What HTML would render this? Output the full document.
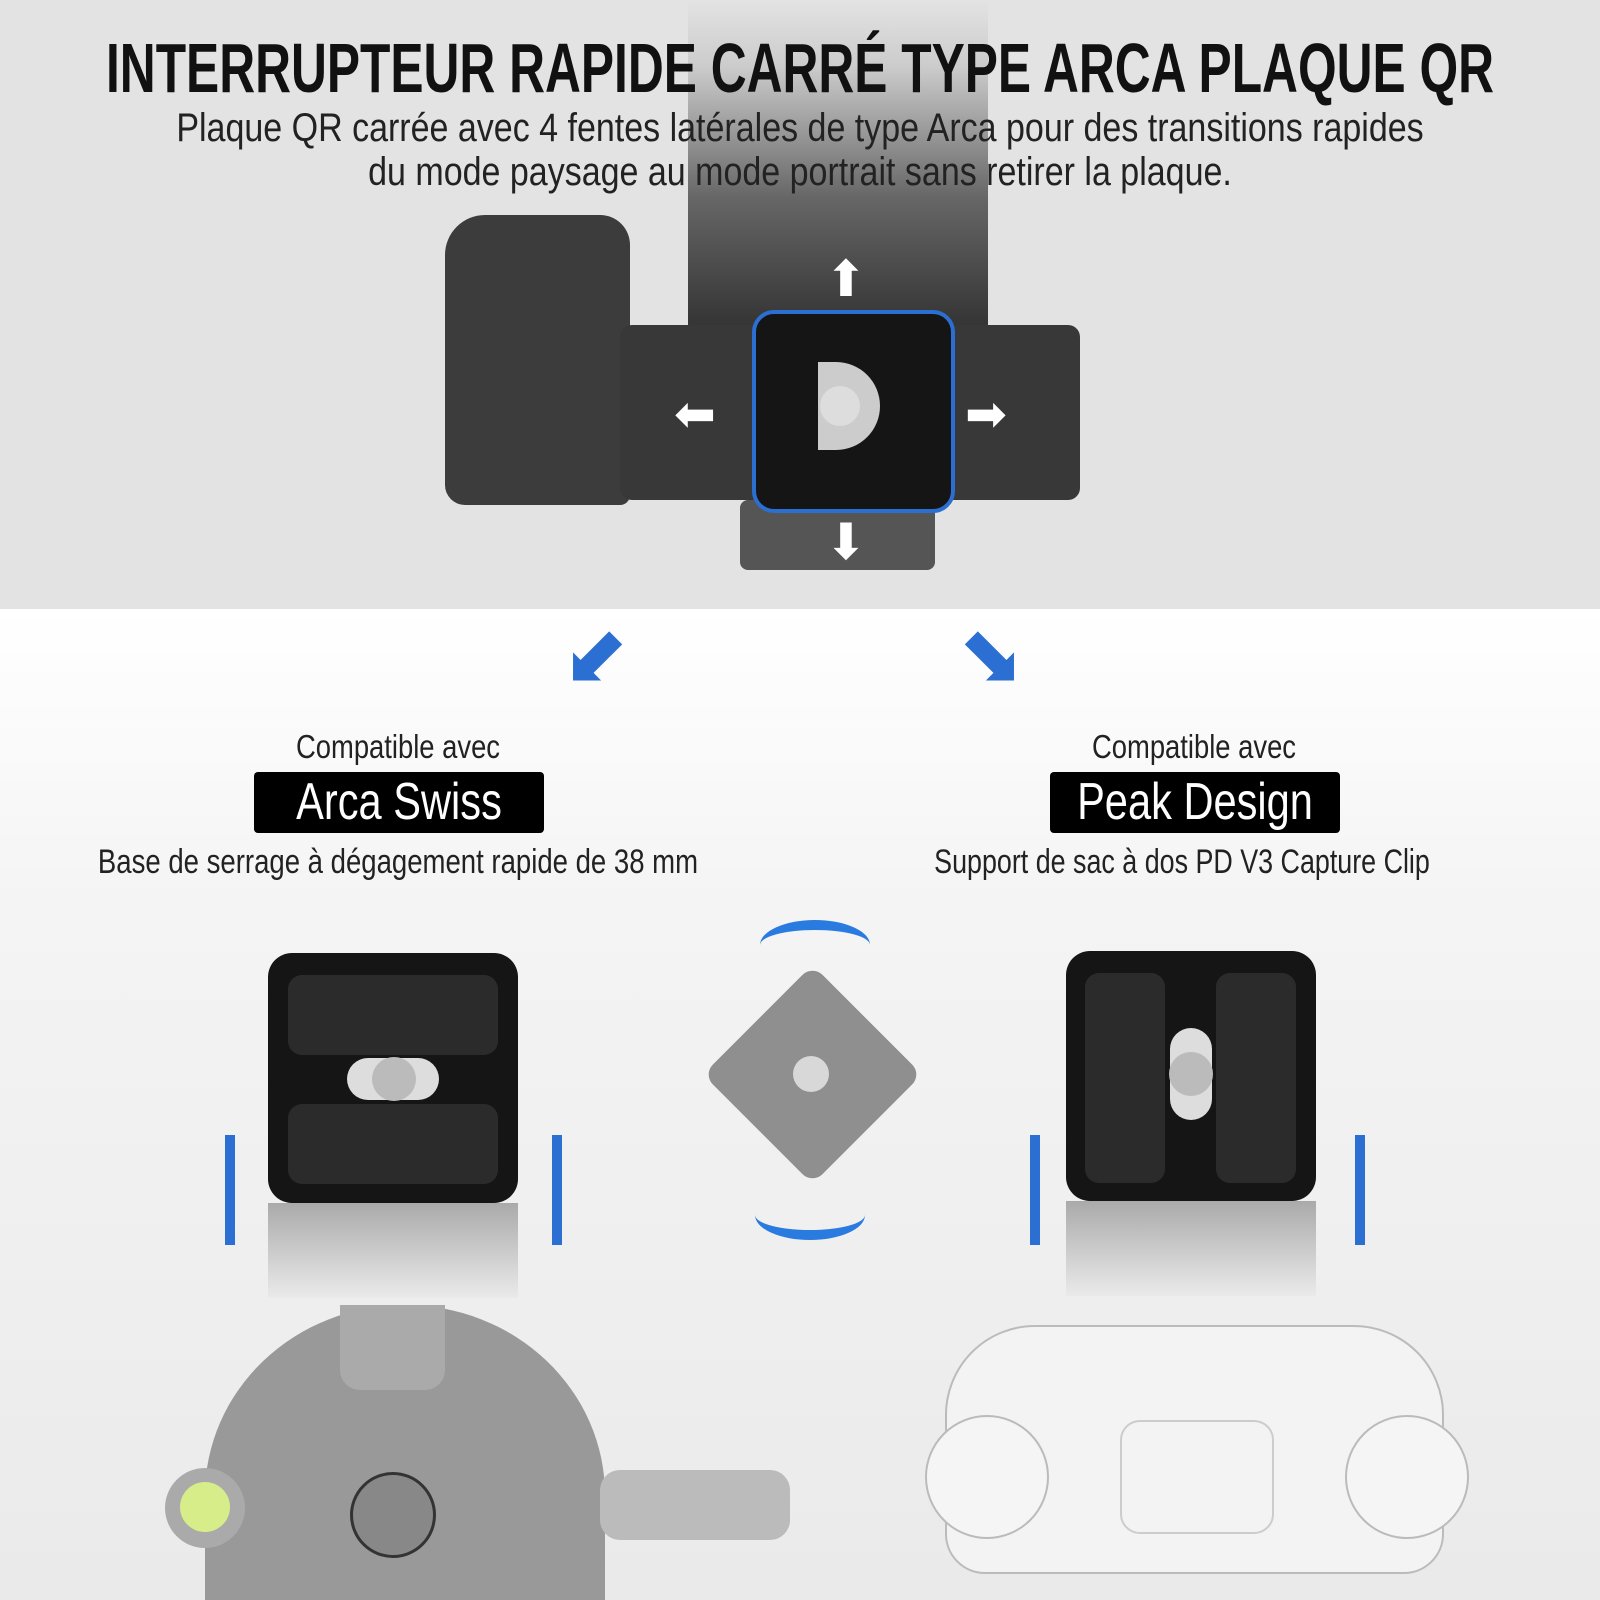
<!DOCTYPE html>
<html><head><meta charset="utf-8"><style>
html,body{margin:0;width:1600px;height:1600px;overflow:hidden}
body{font-family:"Liberation Sans",sans-serif;background:#fff}
#w{position:relative;width:1600px;height:1600px;overflow:hidden}
.a{position:absolute}
.t{position:absolute;white-space:nowrap;transform-origin:center;text-align:center}
</style></head><body><div id="w">
<div class="a" style="left:0;top:0;width:1600px;height:609px;background:#e3e3e3"></div>
<div class="a" style="left:0;top:609px;width:1600px;height:991px;background:linear-gradient(#fff,#f4f4f4 30%,#eaeaea)"></div>
<div class="a" style="left:688px;top:0;width:300px;height:330px;background:linear-gradient(#e3e3e3,#ccc 20%,#666 60%,#333);border-radius:6px"></div>
<div class="t" style="left:800px;top:28px;font-size:70px;font-weight:bold;color:#111;transform:translateX(-50%) scaleX(.71)">INTERRUPTEUR RAPIDE CARRÉ TYPE ARCA PLAQUE QR</div>
<div class="t" style="left:800px;top:106px;font-size:40px;color:#222;line-height:44px;transform:translateX(-50%) scaleX(.85)">Plaque QR carrée avec 4 fentes latérales de type Arca pour des transitions rapides<br>du mode paysage au mode portrait sans retirer la plaque.</div>
<div class="a" style="left:445px;top:215px;width:185px;height:290px;background:#3c3c3c;border-radius:40px 30px 10px 20px"></div>
<div class="a" style="left:620px;top:325px;width:460px;height:175px;background:#383838;border-radius:12px"></div>
<div class="a" style="left:740px;top:500px;width:195px;height:70px;background:#555;border-radius:8px"></div>
<div class="a" style="left:752px;top:310px;width:195px;height:195px;background:#151515;border:4px solid #2a6fd1;border-radius:22px"></div>
<div class="a" style="left:818px;top:362px;width:62px;height:88px;background:#ccc;border-radius:0 44px 44px 0"></div>
<div class="a" style="left:820px;top:386px;width:40px;height:40px;background:#ddd;border-radius:50%"></div>
<div class="a" style="left:825px;top:250px;font-size:50px;color:#fff">⬆</div>
<div class="a" style="left:674px;top:385px;font-size:50px;color:#fff">⬅</div>
<div class="a" style="left:965px;top:385px;font-size:50px;color:#fff">➡</div>
<div class="a" style="left:825px;top:515px;font-size:50px;line-height:55px;color:#fff">⬇</div>
<div class="a" style="left:560px;top:615px;font-size:80px;line-height:90px;color:#2a6fd1;transform:rotate(45deg)">⬇</div>
<div class="a" style="left:960px;top:615px;font-size:80px;line-height:90px;color:#2a6fd1;transform:rotate(-45deg)">⬇</div>
<div class="t" style="left:398px;top:728px;font-size:33px;color:#222;transform:translateX(-50%) scaleX(.83)">Compatible avec</div>
<div class="a" style="left:254px;top:772px;width:290px;height:61px;background:#000;border-radius:4px"></div>
<div class="t" style="left:399px;top:772px;font-size:52px;line-height:61px;color:#fff;transform:translateX(-50%) scaleX(.8)">Arca Swiss</div>
<div class="t" style="left:398px;top:843px;font-size:34px;color:#222;transform:translateX(-50%) scaleX(.81)">Base de serrage à dégagement rapide de 38 mm</div>
<div class="t" style="left:1194px;top:728px;font-size:33px;color:#222;transform:translateX(-50%) scaleX(.83)">Compatible avec</div>
<div class="a" style="left:1050px;top:772px;width:290px;height:61px;background:#000;border-radius:4px"></div>
<div class="t" style="left:1195px;top:772px;font-size:52px;line-height:61px;color:#fff;transform:translateX(-50%) scaleX(.8)">Peak Design</div>
<div class="t" style="left:1182px;top:843px;font-size:34px;color:#222;transform:translateX(-50%) scaleX(.79)">Support de sac à dos PD V3 Capture Clip</div>
<div class="a" style="left:268px;top:953px;width:250px;height:250px;background:#151515;border-radius:24px"></div>
<div class="a" style="left:288px;top:975px;width:210px;height:80px;background:#2b2b2b;border-radius:14px"></div>
<div class="a" style="left:288px;top:1104px;width:210px;height:80px;background:#2b2b2b;border-radius:14px"></div>
<div class="a" style="left:347px;top:1058px;width:92px;height:42px;background:#ddd;border-radius:21px"></div>
<div class="a" style="left:372px;top:1057px;width:44px;height:44px;background:#bbb;border-radius:50%"></div>
<div class="a" style="left:268px;top:1203px;width:250px;height:95px;background:linear-gradient(#aaa,#eaeaea)"></div>
<div class="a" style="left:225px;top:1135px;width:10px;height:110px;background:#2a6fd1"></div>
<div class="a" style="left:552px;top:1135px;width:10px;height:110px;background:#2a6fd1"></div>
<div class="a" style="left:735px;top:997px;width:155px;height:155px;background:#8f8f8f;transform:rotate(45deg);border-radius:14px"></div>
<div class="a" style="left:793px;top:1056px;width:36px;height:36px;background:#d8d8d8;border-radius:50%"></div>
<div class="a" style="left:760px;top:920px;width:110px;height:40px;border-top:10px solid #2a7be0;border-radius:50% 50% 0 0"></div>
<div class="a" style="left:755px;top:1190px;width:110px;height:40px;border-bottom:10px solid #2a7be0;border-radius:0 0 50% 50%"></div>
<div class="a" style="left:1066px;top:951px;width:250px;height:250px;background:#151515;border-radius:24px"></div>
<div class="a" style="left:1085px;top:973px;width:80px;height:210px;background:#2b2b2b;border-radius:14px"></div>
<div class="a" style="left:1216px;top:973px;width:80px;height:210px;background:#2b2b2b;border-radius:14px"></div>
<div class="a" style="left:1170px;top:1028px;width:42px;height:92px;background:#ddd;border-radius:21px"></div>
<div class="a" style="left:1169px;top:1052px;width:44px;height:44px;background:#bbb;border-radius:50%"></div>
<div class="a" style="left:1066px;top:1201px;width:250px;height:95px;background:linear-gradient(#aaa,#eaeaea)"></div>
<div class="a" style="left:1030px;top:1135px;width:10px;height:110px;background:#2a6fd1"></div>
<div class="a" style="left:1355px;top:1135px;width:10px;height:110px;background:#2a6fd1"></div>
<div class="a" style="left:205px;top:1305px;width:400px;height:295px;background:#999;border-radius:200px 200px 0 0 / 190px 190px 0 0"></div>
<div class="a" style="left:340px;top:1305px;width:105px;height:85px;background:#aaa;border-radius:0 0 20px 20px"></div>
<div class="a" style="left:350px;top:1472px;width:80px;height:80px;background:#888;border:3px solid #333;border-radius:50%"></div>
<div class="a" style="left:165px;top:1468px;width:80px;height:80px;background:#aaa;border-radius:50%"></div>
<div class="a" style="left:180px;top:1482px;width:50px;height:50px;background:#d6ed8a;border-radius:50%"></div>
<div class="a" style="left:600px;top:1470px;width:190px;height:70px;background:#bbb;border-radius:20px"></div>
<div class="a" style="left:945px;top:1325px;width:495px;height:245px;background:#f3f3f3;border:2px solid #bbb;border-radius:90px 90px 40px 40px"></div>
<div class="a" style="left:925px;top:1415px;width:120px;height:120px;background:#f5f5f5;border:2px solid #bbb;border-radius:50%"></div>
<div class="a" style="left:1345px;top:1415px;width:120px;height:120px;background:#f5f5f5;border:2px solid #bbb;border-radius:50%"></div>
<div class="a" style="left:1120px;top:1420px;width:150px;height:110px;border:2px solid #ccc;border-radius:20px"></div>
</div></body></html>
